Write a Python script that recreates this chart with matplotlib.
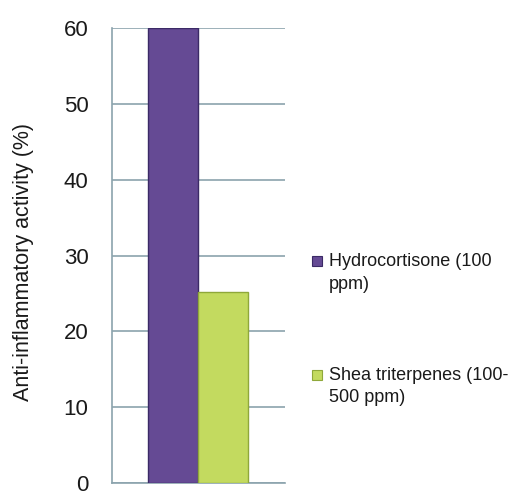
import matplotlib
matplotlib.use("Agg")
import matplotlib.pyplot as plt
from matplotlib.patches import Rectangle
import numpy as np

# ---- data ----
series_labels = ["Hydrocortisone (100\nppm)", "Shea triterpenes (100-\n500 ppm)"]
values = [60, 25.2]
colors = ["#654A94", "#C3DA5F"]
edge_colors = ["#3B2A66", "#8FA83A"]
y_ticks = [0, 10, 20, 30, 40, 50, 60]
y_label = "Anti-inflammatory activity (%)"

plt.rcParams['font.family'] = ['Liberation Sans', 'DejaVu Sans']

W, H = 513, 491
fig = plt.figure(figsize=(W / 100, H / 100), dpi=100)
ax = fig.add_axes([112 / W, 1 - 483 / H, (285 - 112) / W, (483 - 28) / H])

grid_c = "#8BA3AD"
text_c = "#1a1a1a"
x = np.arange(len(values))
for i, (v, c, ec) in enumerate(zip(values, colors, edge_colors)):
    ax.bar(x[i], v, width=1.0, color=c, edgecolor=ec, linewidth=1.0, zorder=3)

ax.set_xlim(-1.22, 2.24)
ax.set_ylim(0, 60)
ax.set_yticks(y_ticks)
ax.set_yticklabels([str(t) for t in y_ticks], fontsize=16, color=text_c)
ax.tick_params(axis="y", length=0, pad=17)
ax.set_xticks([])
ax.yaxis.grid(True, color=grid_c, linewidth=1.2, zorder=0)
ax.set_axisbelow(True)
for s in ["top", "right", "bottom"]:
    ax.spines[s].set_visible(False)
ax.spines["left"].set_color(grid_c)
ax.spines["left"].set_linewidth(1.2)
ax.axhline(0, color=grid_c, linewidth=1.2, zorder=1, clip_on=False)

ax.set_ylabel(y_label, fontsize=15.5, color=text_c)
ax.yaxis.set_label_coords(-0.45, 0.485)

# ---- legend (handle aligned with first line of each label) ----
leg_text_x = 329
leg_center_y0 = 273
leg_step = 113.5
sq = 10
for i, (lab, c, ec) in enumerate(zip(series_labels, colors, edge_colors)):
    cy = leg_center_y0 + i * leg_step
    fig.text(leg_text_x / W, 1 - cy / H, lab, fontsize=13, color=text_c,
             ha="left", va="center", linespacing=1.4)
    sy = cy - 12
    fig.add_artist(Rectangle(((312) / W, 1 - (sy + sq / 2) / H), sq / W, sq / H,
                             transform=fig.transFigure, facecolor=c,
                             edgecolor=ec, linewidth=0.8))

fig.savefig("out.png", dpi=100)
